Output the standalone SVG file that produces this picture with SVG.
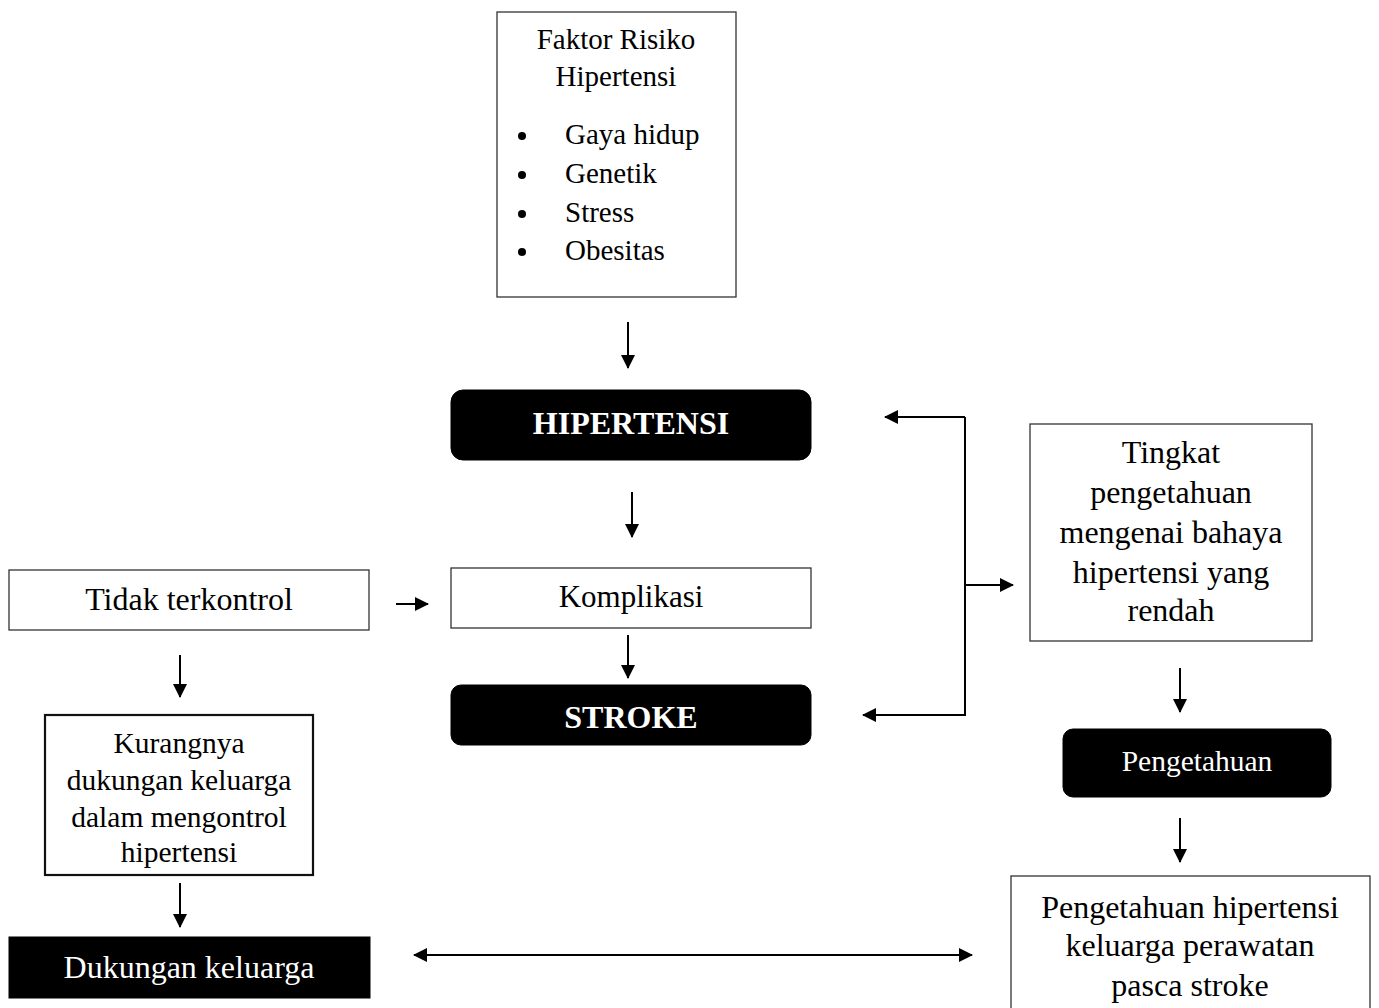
<svg xmlns="http://www.w3.org/2000/svg" width="1379" height="1008" viewBox="0 0 1379 1008">
<style>
.box{fill:#fff;stroke:#333;stroke-width:1.3}
.dark{fill:#000;stroke:#000}
.t{font-family:"Liberation Serif","Times New Roman",serif;fill:#000;text-anchor:middle}
.w{fill:#fff}
.c{stroke:#000;stroke-width:2;fill:none}
</style>
<defs>
<marker id="ah" markerUnits="userSpaceOnUse" markerWidth="14" markerHeight="14" refX="13" refY="7" orient="auto">
<path d="M0,0 L14,7 L0,14 Z" fill="#000"/>
</marker>
<marker id="ahs" markerUnits="userSpaceOnUse" markerWidth="14" markerHeight="14" refX="1" refY="7" orient="auto">
<path d="M14,0 L0,7 L14,14 Z" fill="#000"/>
</marker>
</defs>
<rect width="1379" height="1008" fill="#fff"/>
<g id="faktor">
<rect class="box" x="497" y="12" width="239" height="285"/>
<text class="t" x="616" y="49" font-size="29">Faktor Risiko</text>
<text class="t" x="616" y="86" font-size="29">Hipertensi</text>
<g font-size="29">
<circle cx="522" cy="136" r="4"/><text class="t" x="565" y="144" style="text-anchor:start">Gaya hidup</text>
<circle cx="522" cy="175" r="4"/><text class="t" x="565" y="183" style="text-anchor:start">Genetik</text>
<circle cx="522" cy="214" r="4"/><text class="t" x="565" y="222" style="text-anchor:start">Stress</text>
<circle cx="522" cy="252" r="4"/><text class="t" x="565" y="260" style="text-anchor:start">Obesitas</text>
</g>
</g>
<g id="hipertensi">
<rect class="dark" x="451" y="390" width="360" height="70" rx="12"/>
<text class="t w" x="631" y="434" font-size="32" font-weight="bold">HIPERTENSI</text>
</g>
<g id="komplikasi">
<rect class="box" x="451" y="568" width="360" height="60"/>
<text class="t" x="631" y="607" font-size="31">Komplikasi</text>
</g>
<g id="stroke">
<rect class="dark" x="451" y="685" width="360" height="60" rx="10"/>
<text class="t w" x="631" y="728" font-size="32" font-weight="bold">STROKE</text>
</g>
<g id="tidak">
<rect class="box" x="9" y="570" width="360" height="60"/>
<text class="t" x="189" y="610" font-size="32">Tidak terkontrol</text>
</g>
<g id="kurangnya">
<rect class="box" x="45" y="715" width="268" height="160" style="stroke:#111;stroke-width:2.2"/>
<text class="t" x="179" y="753" font-size="29.5">Kurangnya</text>
<text class="t" x="179" y="790" font-size="29.5">dukungan keluarga</text>
<text class="t" x="179" y="827" font-size="29.5">dalam mengontrol</text>
<text class="t" x="179" y="862" font-size="29.5">hipertensi</text>
</g>
<g id="dukungan">
<rect class="dark" x="9" y="937" width="361" height="61"/>
<text class="t w" x="189" y="978" font-size="32">Dukungan keluarga</text>
</g>
<g id="tingkat">
<rect class="box" x="1030" y="424" width="282" height="217"/>
<text class="t" x="1171" y="463" font-size="32">Tingkat</text>
<text class="t" x="1171" y="503" font-size="32">pengetahuan</text>
<text class="t" x="1171" y="543" font-size="32">mengenai bahaya</text>
<text class="t" x="1171" y="583" font-size="32">hipertensi yang</text>
<text class="t" x="1171" y="621" font-size="32">rendah</text>
</g>
<g id="pengetahuan">
<rect class="dark" x="1063" y="729" width="268" height="68" rx="10"/>
<text class="t w" x="1197" y="771" font-size="29.5">Pengetahuan</text>
</g>
<g id="pengetahuan-hipertensi">
<rect class="box" x="1011" y="876" width="359" height="140"/>
<text class="t" x="1190" y="918" font-size="32">Pengetahuan hipertensi</text>
<text class="t" x="1190" y="956" font-size="32">keluarga perawatan</text>
<text class="t" x="1190" y="996" font-size="32">pasca stroke</text>
</g>
<g id="connectors">
<line class="c" x1="628" y1="322" x2="628" y2="368" marker-end="url(#ah)"/>
<line class="c" x1="632" y1="492" x2="632" y2="537" marker-end="url(#ah)"/>
<line class="c" x1="628" y1="635" x2="628" y2="678" marker-end="url(#ah)"/>
<line class="c" x1="396" y1="604" x2="428" y2="604" marker-end="url(#ah)"/>
<line class="c" x1="180" y1="655" x2="180" y2="697" marker-end="url(#ah)"/>
<line class="c" x1="180" y1="883" x2="180" y2="927" marker-end="url(#ah)"/>
<line class="c" x1="1180" y1="668" x2="1180" y2="712" marker-end="url(#ah)"/>
<line class="c" x1="1180" y1="818" x2="1180" y2="862" marker-end="url(#ah)"/>
<line class="c" x1="414" y1="955" x2="972" y2="955" marker-start="url(#ahs)" marker-end="url(#ah)"/>
<path class="c" d="M965,417 L885,417" marker-end="url(#ah)"/>
<path class="c" d="M965,417 L965,715 L863,715" marker-end="url(#ah)"/>
<line class="c" x1="965" y1="585" x2="1013" y2="585" marker-end="url(#ah)"/>
</g>
</svg>
